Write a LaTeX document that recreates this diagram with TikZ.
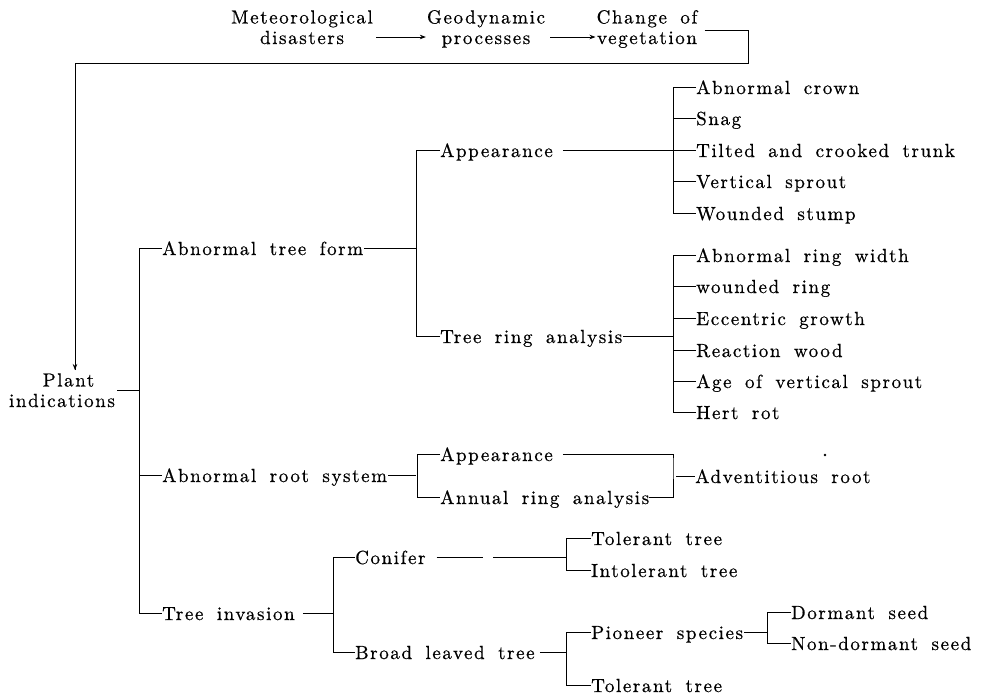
\documentclass[tikz,border=0pt]{standalone}
\usepackage{fontspec}
\setmainfont{lmroman10-regular.otf}[LetterSpace=8.4,WordSpace=1.7,FakeBold=0.6]
\usetikzlibrary{arrows.meta}
\begin{document}
\begin{tikzpicture}[x=1pt,y=-1pt,
  lbl/.style={inner sep=0pt,anchor=base west,font=\fontsize{19}{20}\selectfont},
  two/.style={inner sep=0pt,anchor=base,align=center,font=\fontsize{19}{20.5}\selectfont},
  ln/.style={line width=0.7pt},
  arr/.style={line width=0.7pt,-{Stealth[length=6pt,width=4.5pt]}}]
\useasboundingbox (0,0) rectangle (983,697);
% top chain
\node[two] (M) at (302,44) {Meteorological\\disasters};
\node[two] (G) at (486,44) {Geodynamic\\processes};
\node[two] (C) at (647,44) {Change of\\vegetation};
\coordinate (arrA) at (75,370);
\coordinate (corner) at (748,63);
\coordinate (yArr) at (0,37);
\coordinate (yTop) at (0,30);
\draw[arr] ([xshift=3pt]M.east |- yArr) -- ([xshift=-1pt]G.west |- yArr);
\draw[arr] ([xshift=5pt]G.east |- yArr) -- ([xshift=-1pt]C.west |- yArr);
\draw[ln] ([xshift=7pt]C.east |- yTop) -| (corner) -| (arrA);
\draw[arr] (75,300) -- (arrA);
% root
\node[two] (P) at (62,407) {\hspace*{13pt}Plant\\indications};
\coordinate (xA) at (139,0);
\draw[ln] ([xshift=2pt]P.east) -- (P.east -| xA);
% level 1
\node[lbl] (L1) at (162,255) {Abnormal tree form};
\node[lbl] (L2) at (162,482) {Abnormal root system};
\node[lbl] (L3) at (162,620) {Tree invasion};
\draw[ln] ([yshift=7pt]L1.base west) -- ++(-23,0) |- ([yshift=7pt]L3.base west);
\draw[ln] ([yshift=7pt]L2.base west) -- ++(-23,0);
% tree form
\node[lbl] (F1) at (440,157) {Appearance};
\node[lbl] (F2) at (440,343) {Tree ring analysis};
\coordinate (xB) at (416,0);
\draw[ln] ([yshift=7pt]F1.base west) -- ++(-24,0) |- ([yshift=7pt]F2.base west);
\draw[ln] ([xshift=1pt,yshift=7pt]L1.base east) -- ([yshift=7pt]L1.base east -| xB);
% appearance leaves
\node[lbl] (A1) at (696,94) {Abnormal crown};
\node[lbl] (A2) at (696,125) {Snag};
\node[lbl] (A3) at (696,157) {Tilted and crooked trunk};
\node[lbl] (A4) at (696,188) {Vertical sprout};
\node[lbl] (A5) at (696,220) {Wounded stump};
\draw[ln] ([yshift=7pt]A1.base west) -- ++(-23,0) |- ([yshift=7pt]A5.base west);
\foreach \n in {A2,A4} \draw[ln] ([yshift=7pt]\n.base west) -- ++(-23,0);
\draw[ln] ([xshift=10pt,yshift=7pt]F1.base east) -- ([yshift=7pt]A3.base west);
% tree ring leaves
\node[lbl] (B1) at (696,262) {Abnormal ring width};
\node[lbl] (B2) at (696,293) {wounded ring};
\node[lbl] (B3) at (696,325) {Eccentric growth};
\node[lbl] (B4) at (696,357) {Reaction wood};
\node[lbl] (B5) at (696,388) {Age of vertical sprout};
\node[lbl] (B6) at (696,419) {Hert rot};
\coordinate (xC) at (673,0);
\draw[ln] ([yshift=7pt]B1.base west) -- ++(-23,0) |- ([yshift=7pt]B6.base west);
\foreach \n in {B2,B3,B4,B5} \draw[ln] ([yshift=7pt]\n.base west) -- ++(-23,0);
\draw[ln] ([xshift=1pt,yshift=7pt]F2.base east) -- ([yshift=7pt]F2.base east -| xC);
% root system
\node[lbl] (R1) at (440,461) {Appearance};
\node[lbl] (R2) at (440,504) {Annual ring analysis};
\node[lbl] (R3) at (695,483) {Adventitious root};
\draw[ln] ([yshift=7pt]R1.base west) -- ++(-23,0) |- ([yshift=7pt]R2.base west);
\draw[ln] ([xshift=1pt,yshift=7pt]L2.base east) -- ([yshift=7pt]L2.base east -| xB);
\draw[ln] ([xshift=10pt,yshift=7pt]R1.base east) -| (R1.base east -| xC) |- ([yshift=7pt]R2.base east) -- ++(1pt,0);
\draw[ln] ([yshift=7pt]R2.base east) -- ([yshift=7pt]R2.base east -| xC);
\draw[ln] ([xshift=3pt,yshift=7pt]R3.base west -| xC) -- ([yshift=7pt]R3.base west);
\fill (825,455) circle (1.3pt);
% invasion
\node[lbl] (I1) at (355,564) {Conifer};
\node[lbl] (I2) at (355,659) {Broad leaved tree};
\coordinate (xD) at (333,0);
\coordinate (xE) at (566,0);
\coordinate (xF) at (767,0);
\draw[ln] ([yshift=7pt]I1.base west) -- ++(-22,0) |- ([yshift=7pt]I2.base west);
\draw[ln] ([xshift=8pt,yshift=7pt]L3.base east) -- ([yshift=7pt]L3.base east -| xD);
\node[lbl] (T1) at (591,545) {Tolerant tree};
\node[lbl] (T2) at (591,577) {Intolerant tree};
\draw[ln] ([yshift=7pt]T1.base west) -- ++(-25,0) |- ([yshift=7pt]T2.base west);
\draw[ln] ([xshift=11pt,yshift=7pt]I1.base east) -- ++(46,0);
\draw[ln] ([yshift=7pt]I1.base east -| 493,0) -- ([yshift=7pt]I1.base east -| xE);
\node[lbl] (S1) at (591,639) {Pioneer species};
\node[lbl] (S2) at (591,692) {Tolerant tree};
\draw[ln] ([yshift=7pt]S1.base west) -- ++(-25,0) |- ([yshift=7pt]S2.base west);
\draw[ln] ([xshift=5pt,yshift=7pt]I2.base east) -- ([yshift=7pt]I2.base east -| xE);
\node[lbl] (D1) at (791,619) {Dormant seed};
\node[lbl] (D2) at (791,650) {Non-dormant seed};
\draw[ln] ([yshift=7pt]D1.base west) -- ++(-24,0) |- ([yshift=7pt]D2.base west);
\draw[ln] ([xshift=1pt,yshift=7pt]S1.base east) -- ([yshift=7pt]S1.base east -| xF);
\end{tikzpicture}
\end{document}
